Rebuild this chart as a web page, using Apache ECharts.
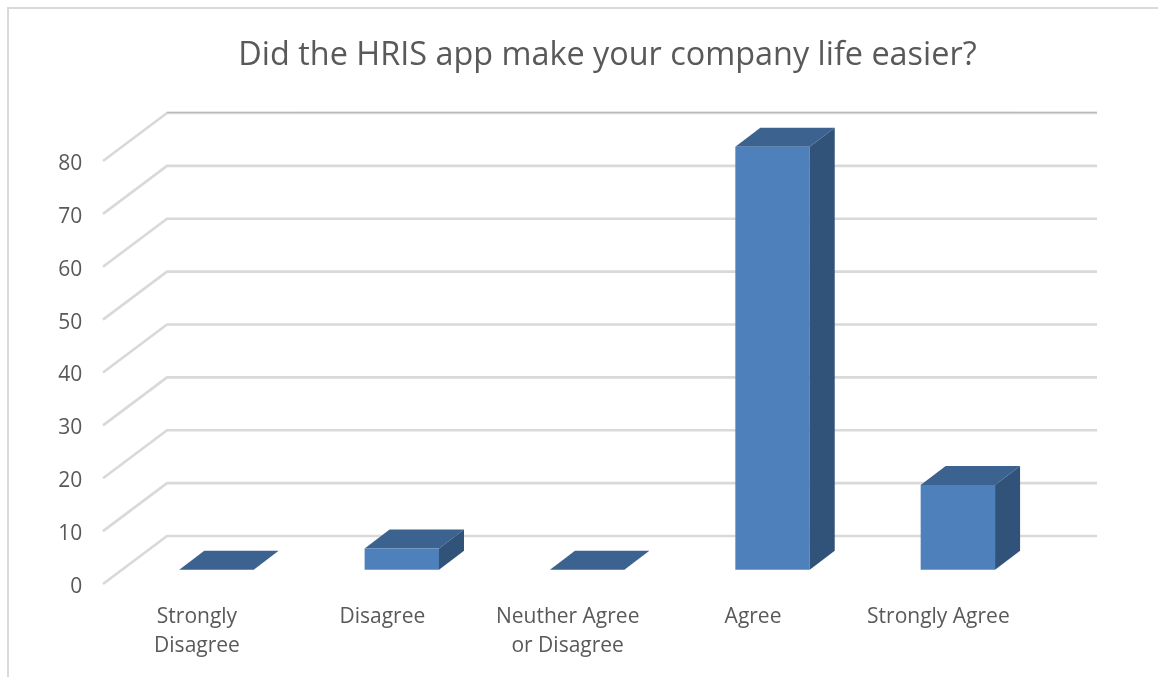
<!DOCTYPE html>
<html>
<head>
<meta charset="utf-8">
<style>html,body{margin:0;padding:0;background:#fff}#chart{width:1158px;height:677px}</style>
<script src="https://cdn.jsdelivr.net/npm/echarts@6/dist/echarts.min.js"></script>
</head>
<body>
<div id="chart"></div>
<script>
// Survey responses, one count per answer
const categories = ['Strongly\nDisagree', 'Disagree', 'Neuther Agree\nor Disagree', 'Agree', 'Strongly Agree'];
const responses = [0, 4, 0, 80, 16];
const yTicks = [0, 10, 20, 30, 40, 50, 60, 70, 80];

const FONT = '"Open Sans", sans-serif';
const TEXT = '#595959';
const WALL_LINE = '#d9d9d9';

// Oblique projection: the back wall sits up and to the right of the front plane
const WALL_DX = 64, WALL_DY = -48;
// Bar placement inside the floor depth, and its own depth
const BAR_DX = 19.3, BAR_DY = -17.3, BAR_WIDTH = 74.4, BAR_DEPTH_X = 25, BAR_DEPTH_Y = -19;

function renderWall(params, api) {
  const cs = params.coordSys;
  const tick = api.value(0);
  const y = api.coord([0, tick])[1];
  const children = [{
    type: 'polyline',
    shape: { points: [[cs.x - WALL_DX, y - WALL_DY], [cs.x, y], [cs.x + cs.width, y]] },
    style: { stroke: WALL_LINE, lineWidth: 2.6, fill: null }
  }];
  if (tick === yTicks[yTicks.length - 1]) {
    children.push({
      type: 'line',
      shape: { x1: cs.x, y1: y - 0.7, x2: cs.x + cs.width, y2: y - 0.7 },
      style: { stroke: '#b2b2b2', lineWidth: 1 }
    });
  }
  return { type: 'group', children };
}

function renderBar(params, api) {
  const idx = api.value(0);
  const base = api.coord([idx, 0]);
  const top = api.coord([idx, api.value(1)]);
  const x0 = base[0] + BAR_DX - 37, x1 = x0 + BAR_WIDTH;
  const yb = base[1] + BAR_DY, yt = top[1] + BAR_DY;
  const dx = BAR_DEPTH_X, dy = BAR_DEPTH_Y;
  const children = [{
    type: 'polygon',
    shape: { points: [[x0, yt], [x1, yt], [x1 + dx, yt + dy], [x0 + dx, yt + dy]] },
    style: { fill: '#3c628f' }
  }];
  if (yb - yt > 0) {
    children.push({
      type: 'rect',
      shape: { x: x0, y: yt, width: BAR_WIDTH, height: yb - yt },
      style: { fill: '#4e80bc' }
    }, {
      type: 'polygon',
      shape: { points: [[x1, yt], [x1 + dx, yt + dy], [x1 + dx, yb + dy], [x1, yb]] },
      style: { fill: '#31537a' }
    });
  }
  return { type: 'group', children };
}

const chart = echarts.init(document.getElementById('chart'), null, { renderer: 'canvas' });
chart.setOption({
  animation: false,
  backgroundColor: '#fff',
  title: {
    text: 'Did the HRIS app make your company life easier?',
    left: 602.5, top: 35, textAlign: 'center',
    textStyle: { fontFamily: FONT, fontSize: 32.4, fontWeight: 'normal', color: TEXT }
  },
  graphic: [{
    type: 'polyline',
    silent: true,
    shape: { points: [[8, 677], [8, 8], [1158, 8]] },
    style: { stroke: WALL_LINE, lineWidth: 2, fill: null }
  }],
  grid: [
    { left: 167, width: 930, top: 113, height: 423 },
    { left: 104.3, width: 926.75, top: 164, height: 423 }
  ],
  xAxis: [
    { gridIndex: 0, type: 'category', data: categories, show: false },
    {
      gridIndex: 1, type: 'category', data: categories,
      axisLine: { show: false }, axisTick: { show: false },
      axisLabel: { interval: 0, margin: 16, fontFamily: FONT, fontSize: 21, lineHeight: 29, color: TEXT }
    }
  ],
  yAxis: [
    { gridIndex: 0, type: 'value', min: 0, max: 80, interval: 10, show: false },
    {
      gridIndex: 1, type: 'value', min: 0, max: 80, interval: 10,
      axisLine: { show: false }, axisTick: { show: false }, splitLine: { show: false },
      axisLabel: { margin: 22, fontFamily: FONT, fontSize: 21, color: TEXT }
    }
  ],
  series: [
    {
      type: 'custom', xAxisIndex: 0, yAxisIndex: 0, silent: true, z: 1,
      renderItem: renderWall,
      encode: { y: 0 },
      data: yTicks.map(t => [t])
    },
    {
      type: 'custom', xAxisIndex: 1, yAxisIndex: 1, silent: true, z: 2,
      renderItem: renderBar,
      encode: { x: 0, y: 1 },
      data: responses.map((v, i) => [i, v])
    }
  ]
});
</script>
</body>
</html>
